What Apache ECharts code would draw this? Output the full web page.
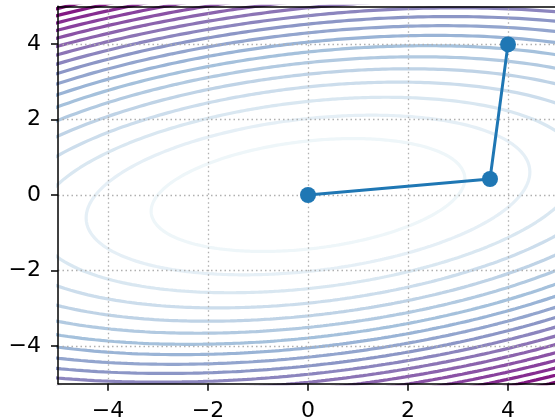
<!DOCTYPE html>
<html>
<head>
<meta charset="utf-8">
<script src="https://cdn.jsdelivr.net/npm/echarts@6/dist/echarts.min.js"></script>
<style>
html,body{margin:0;padding:0;background:#fff;overflow:hidden;}
#chart{width:555px;height:419px;}
</style>
</head>
<body>
<div id="chart"></div>
<script>
// ---- data ----
const X_TICKS = [-4, -2, 0, 2, 4];
const Y_TICKS = [-4, -2, 0, 2, 4];
// descent path
const PATH_X = [4.0, 3.64, 0.0];
const PATH_Y = [3.99, 0.424, 0.0];
// quadratic objective q = P*x^2 + 2*R*x*y + C*y^2 (minimum at origin)
const QUAD_P = 0.227;
const QUAD_R = -0.137;
const QUAD_C = 1.0;
// contour levels (evenly spaced)
const LEVELS = [2.05, 4.1, 6.15, 8.2, 10.25, 12.3, 14.35, 16.4, 18.45, 20.5,
                22.55, 24.6, 26.65, 28.7, 30.75, 32.8, 34.85, 36.9];
const LEVEL_TOP = 41.0;
// BuPu colormap stops
const BUPU = ['#f7fcfd', '#e0ecf4', '#bfd3e6', '#9ebcda', '#8c96c6', '#8c6bb1', '#88419d', '#810f7c', '#4d004b'];

function hex2rgb(h) { return [1, 3, 5].map(i => parseInt(h.substr(i, 2), 16)); }
function cmap(t) {
  t = Math.max(0, Math.min(1, t));
  const n = BUPU.length - 1;
  const f = t * n;
  const i = Math.min(n - 1, Math.floor(f));
  const u = f - i;
  const a = hex2rgb(BUPU[i]), b = hex2rgb(BUPU[i + 1]);
  const c = a.map((v, k) => Math.round(v + (b[k] - v) * u));
  return 'rgb(' + c.join(',') + ')';
}
function contour(level) {
  const pts = [];
  for (let d = 0; d <= 360; d += 1) {
    const th = d * Math.PI / 180;
    const cs = Math.cos(th), sn = Math.sin(th);
    const den = QUAD_P * cs * cs + 2 * QUAD_R * cs * sn + QUAD_C * sn * sn;
    const rho = Math.sqrt(level / den);
    pts.push([rho * cs, rho * sn]);
  }
  return pts;
}
const minus = v => String(v).replace('-', '\u2212');
const FONT = 'DejaVu Sans';

const series = [];
LEVELS.forEach(L => {
  series.push({
    type: 'line', data: contour(L), showSymbol: false, symbol: 'none',
    lineStyle: { color: cmap(L / LEVEL_TOP), width: 3.2 },
    silent: true, animation: false, clip: true, z: 1
  });
});
// grid lines
series.push({
  type: 'line', data: [], z: 3, silent: true, animation: false,
  markLine: {
    silent: true, symbol: 'none', animation: false,
    label: { show: false },
    lineStyle: { type: [1.5, 3], color: '#b0b0b0', width: 1.3 },
    data: X_TICKS.map(v => ({ xAxis: v })).concat(Y_TICKS.map(v => ({ yAxis: v })))
  }
});
series.push({
  type: 'line', data: PATH_X.map((x, i) => [x, PATH_Y[i]]),
  symbol: 'circle', symbolSize: 16, showSymbol: true,
  lineStyle: { color: '#1f77b4', width: 3 },
  itemStyle: { color: '#1f77b4' },
  z: 20, animation: false
});

const axLine = { show: true, onZero: false, lineStyle: { color: '#000', width: 1.5 } };
const option = {
  backgroundColor: '#fff',
  animation: false,
  grid: { left: 58, width: 500, top: 6.25, height: 377.5, containLabel: false, outerBoundsMode: 'none' },
  xAxis: [
    { type: 'value', min: -5, max: 5, position: 'bottom', z: 10,
      axisLine: axLine,
      axisTick: { show: true, customValues: X_TICKS, length: 7, lineStyle: { color: '#000', width: 1.5 } },
      axisLabel: { customValues: X_TICKS, formatter: minus, fontSize: 22, color: '#000', fontFamily: FONT, margin: 17 },
      splitLine: { show: false } },
    { type: 'value', min: -5, max: 5, position: 'top', z: 10,
      axisLine: axLine, axisTick: { show: false }, axisLabel: { show: false }, splitLine: { show: false } }
  ],
  yAxis: [
    { type: 'value', min: -5, max: 5, position: 'left', z: 10,
      axisLine: axLine,
      axisTick: { show: true, customValues: Y_TICKS, length: 7, lineStyle: { color: '#000', width: 1.5 } },
      axisLabel: { customValues: Y_TICKS, formatter: minus, fontSize: 22, color: '#000', fontFamily: FONT, margin: 17 },
      splitLine: { show: false } }
  ],
  series: series
};
const chart = echarts.init(document.getElementById('chart'), null, { renderer: 'canvas', width: 555, height: 419 });
chart.setOption(option);
</script>
</body>
</html>
